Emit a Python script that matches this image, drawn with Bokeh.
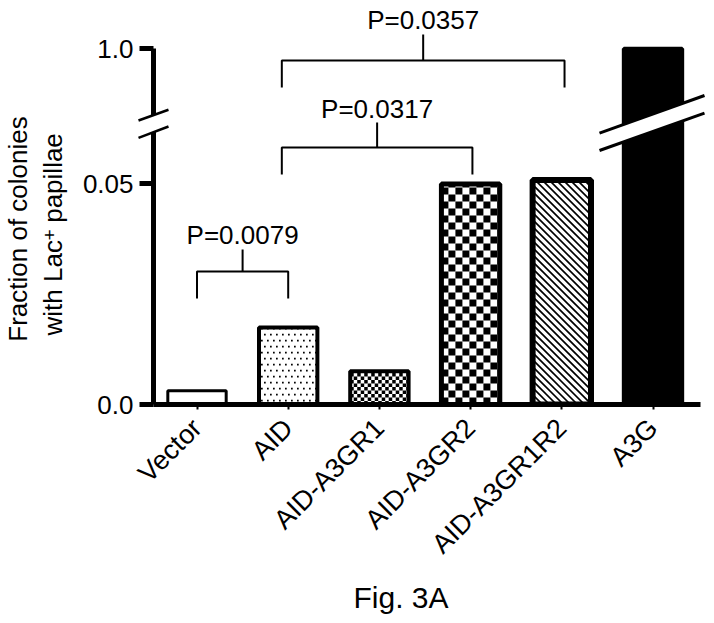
import math
from bokeh.plotting import figure
from bokeh.models import ColumnDataSource, Range1d, FixedTicker, Label
from bokeh.core.properties import value
from bokeh.embed import file_html
from bokeh.resources import INLINE

# ---------------- data ----------------
categories = ["Vector", "AID", "AID-A3GR1", "AID-A3GR2", "AID-A3GR1R2", "A3G"]
fractions = [0.0031, 0.0174, 0.0075, 0.0499, 0.0508, 1.0]
y_tick_values = [0.0, 0.05, 1.0]
y_tick_labels = ["0.0", "0.05", "1.0"]
comparison_left = [0, 1, 1]
comparison_right = [1, 3, 4]
p_value_labels = ["P=0.0079", "P=0.0317", "P=0.0357"]
y_title_line1 = "Fraction of colonies"
y_title_line2 = ["with Lac", "+", "papillae"]
caption = "Fig. 3A"

# ---------------- styles ----------------
bar_fill_kind = ["blank", "dots", "fine_checker", "coarse_checker", "diagonal", "solid"]
bar_line_width = [3, 4, 4, 5, 6, 4]
BAR_W = 0.64

# ---------------- broken y scale (lower segment 0..LOW_TOP, upper UP_BOT..UP_TOP) ----
LOW_TOP = 0.0617
UP_BOT, UP_TOP = 0.8, 1.0
D_UP_BOT, D_UP_TOP = 0.0655, 0.0805


def disp(v):
    if v <= LOW_TOP:
        return v
    return D_UP_BOT + (v - UP_BOT) * (D_UP_TOP - D_UP_BOT) / (UP_TOP - UP_BOT)


# ---------------- layout helpers (canvas pixels -> plot units) ----------------
FONT = "Liberation Sans"
W, H = 710, 620
FRAME_L, FRAME_R, FRAME_T, FRAME_B = 153, 710, 0, 404
PX_Y = 4420.0
X0, XSTEP = 196.5, 91.2
BASE_FIX = 0.38   # baseline correction (fraction of font size)


def dx(px):
    return (px - X0) / XSTEP


def dy(py):
    return (FRAME_B - py) / PX_Y


p = figure(width=W, height=H, output_backend="svg", toolbar_location=None, tools="",
           x_range=Range1d(dx(FRAME_L), dx(FRAME_R)),
           y_range=Range1d(dy(FRAME_B), dy(FRAME_T)),
           min_border_left=FRAME_L, min_border_right=W - FRAME_R, min_border_top=FRAME_T,
           min_border_bottom=H - FRAME_B)
p.outline_line_color = None
p.xgrid.visible = False
p.ygrid.visible = False
p.background_fill_color = "white"
p.border_fill_color = "white"

# ---------------- bars: fill ----------------
n = len(categories)
src = ColumnDataSource(dict(
    x=list(range(n)),
    top=[disp(v) for v in fractions],
    fill=["black" if k == "solid" else "white" for k in bar_fill_kind],
    lw=bar_line_width,
))
p.vbar(x="x", top="top", bottom=0, width=BAR_W, source=src,
       fill_color="fill", line_color=None)

# ---------------- bar patterns (derived from bar geometry) ----------------
q_l, q_r, q_t, q_b = [], [], [], []
d_xs, d_ys = [], []
for i, kind in enumerate(bar_fill_kind):
    xl = X0 + i * XSTEP - BAR_W * XSTEP / 2
    xr = X0 + i * XSTEP + BAR_W * XSTEP / 2
    yb = FRAME_B
    yt = FRAME_B - disp(fractions[i]) * PX_Y
    if kind in ("fine_checker", "coarse_checker"):
        s = 3.5 if kind == "fine_checker" else 7.0
        nx = int(math.ceil((xr - xl) / s))
        ny = int(math.ceil((yb - yt) / s))
        for a in range(nx):
            for b in range(ny):
                if (a + b) % 2 == 0:
                    x1 = xl + a * s
                    x2 = min(xl + (a + 1) * s, xr)
                    y1 = yb - b * s
                    y2 = max(yb - (b + 1) * s, yt)
                    q_l.append(dx(x1)); q_r.append(dx(x2))
                    q_b.append(dy(y1)); q_t.append(dy(y2))
    elif kind == "dots":
        step, d = 6.0, 1.7
        row = 0
        y = yb - 3
        while y - d > yt:
            x = xl + 2 + (3.0 if row % 2 else 0.0)
            while x + d < xr:
                q_l.append(dx(x)); q_r.append(dx(x + d))
                q_b.append(dy(y)); q_t.append(dy(y - d))
                x += step
            y -= step
            row += 1
    elif kind == "diagonal":
        step = 7.0
        c = yt - xr
        while c < yb - xl:
            xa_ = max(xl, yt - c)
            xb_ = min(xr, yb - c)
            if xb_ > xa_:
                d_xs.append([dx(xa_), dx(xb_)])
                d_ys.append([dy(xa_ + c), dy(xb_ + c)])
            c += step

p.quad(left=q_l, right=q_r, top=q_t, bottom=q_b, fill_color="black", line_color=None)
p.multi_line(xs=d_xs, ys=d_ys, line_color="black", line_width=1.7)

# ---------------- bars: outline ----------------
p.vbar(x="x", top="top", bottom=0, width=BAR_W, source=src,
       fill_color=None, line_color="black", line_width="lw")

# ---------------- axes ----------------
xa = p.xaxis[0]
xa.ticker = FixedTicker(ticks=list(range(n)))
xa.major_label_overrides = {i: c for i, c in enumerate(categories)}
xa.major_label_orientation = math.pi / 4
xa.major_label_text_font = FONT
xa.major_label_text_font_size = "27px"
xa.major_label_text_color = "black"
xa.axis_line_width = 5
xa.axis_line_color = "black"
xa.bounds = (dx(FRAME_L), dx(700))
xa.major_tick_in = 0
xa.major_tick_out = 5
xa.major_tick_line_width = 2
xa.minor_tick_line_color = None
xa.major_label_standoff = 14

ya = p.yaxis[0]
ya.ticker = FixedTicker(ticks=[disp(t) for t in y_tick_values])
ya.major_label_overrides = {disp(t): l for t, l in zip(y_tick_values, y_tick_labels)}
ya.major_label_text_font = FONT
ya.major_label_text_font_size = "26px"
ya.major_label_text_color = "black"
ya.axis_line_width = 5
ya.axis_line_color = "black"
ya.bounds = (0, disp(UP_TOP))
ya.major_tick_in = 0
ya.major_tick_out = 14
ya.major_tick_line_width = 5
ya.minor_tick_line_color = None
ya.major_label_standoff = 6

# ---------------- axis break & bar break ----------------
p.patch(x=[dx(136), dx(170), dx(170), dx(136)],
        y=[dy(120.8), dy(108.7), dy(125.4), dy(138.1)],
        fill_color="white", line_color=None, level="overlay")
p.multi_line(xs=[[dx(138), dx(168)], [dx(138), dx(168)]],
             ys=[[dy(120.0), dy(109.3)], [dy(137.3), dy(126.0)]],
             line_color="black", line_width=2.5, level="overlay")
p.patch(x=[dx(597), dx(706), dx(706), dx(597)],
        y=[dy(133.4), dy(94.3), dy(112.0), dy(150.7)],
        fill_color="white", line_color=None, level="overlay")
p.multi_line(xs=[[dx(599), dx(704)], [dx(599), dx(704)]],
             ys=[[dy(132.7), dy(95.0)], [dy(150.0), dy(112.7)]],
             line_color="black", line_width=3, level="overlay")

# ---------------- significance brackets ----------------
bar_y = [271, 147, 60]
leg_y = [298, 174, 87]
stem_top = [249, 122, 34]
text_base = [244, 118, 29]
left_off = [0.0, -0.07, -0.07]
right_off = [0.0, 0.02, 0.03]
bxs, bys = [], []
for i in range(len(p_value_labels)):
    xl = comparison_left[i] + left_off[i]
    xr = comparison_right[i] + right_off[i]
    xm = (xl + xr) / 2
    bxs += [[xl, xl, xr, xr], [xm, xm]]
    bys += [[dy(leg_y[i]), dy(bar_y[i]), dy(bar_y[i]), dy(leg_y[i])],
            [dy(bar_y[i]), dy(stem_top[i])]]
    p.add_layout(Label(x=xm, y=dy(text_base[i] - BASE_FIX * 26), text=p_value_labels[i],
                       text_align="center", text_baseline="alphabetic",
                       text_font=FONT, text_font_size="26px", text_color="black"))
p.multi_line(xs=bxs, ys=bys, line_color="black", line_width=2)


# ---------------- y title (two rotated lines, with superscript) ----------------
def side_text(px, py, txt, size, align, angle=math.pi / 2):
    if angle == 0:
        py -= BASE_FIX * size
    else:
        px -= BASE_FIX * size
    p.text(x=[dx(px)], y=[dy(py)], text=[txt], angle=angle,
           text_align=align, text_baseline="alphabetic",
           text_font=value(FONT), text_font_size=value(f"{size}px"),
           text_color="black", level="overlay")


side_text(27, 228.5, y_title_line1, 26, "center")
side_text(62, 335, y_title_line2[0], 26, "left")
side_text(56, 240, y_title_line2[1], 19, "left")
side_text(62, 222.3, y_title_line2[2], 26, "left")

# ---------------- caption ----------------
side_text(400.5, 608, caption, 30, "center", angle=0)

open("out.html", "w").write(file_html(p, INLINE))
